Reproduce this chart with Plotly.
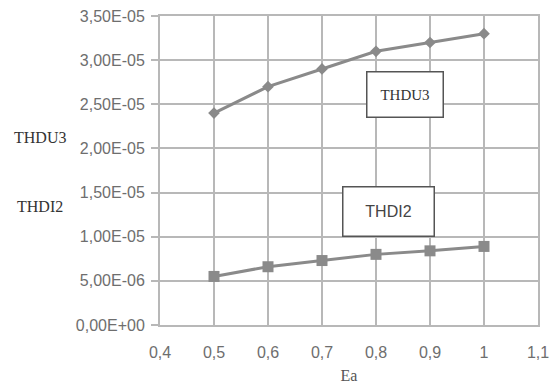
import plotly.graph_objects as go

ea = [0.5, 0.6, 0.7, 0.8, 0.9, 1.0]
thdu3 = [2.40e-5, 2.70e-5, 2.90e-5, 3.10e-5, 3.20e-5, 3.30e-5]
thdi2 = [5.5e-6, 6.6e-6, 7.3e-6, 8.0e-6, 8.4e-6, 8.9e-6]

y_ticks = [0, 5e-6, 1e-5, 1.5e-5, 2e-5, 2.5e-5, 3e-5, 3.5e-5]
y_tick_text = ["0,00E+00", "5,00E-06", "1,00E-05", "1,50E-05",
               "2,00E-05", "2,50E-05", "3,00E-05", "3,50E-05"]
x_ticks = [0.4, 0.5, 0.6, 0.7, 0.8, 0.9, 1.0, 1.1]
x_tick_text = ["0,4", "0,5", "0,6", "0,7", "0,8", "0,9", "1", "1,1"]

line_col = "#8a8a8a"
grid_col = "#b8b8b8"
tick_font = dict(family="Liberation Sans", size=16, color="#6e6e6e")
serif = "Liberation Serif"

fig = go.Figure()
fig.add_trace(go.Scatter(x=ea, y=thdu3, mode="lines+markers", name="THDU3",
                         line=dict(color=line_col, width=3),
                         marker=dict(symbol="diamond", size=9, color=line_col)))
fig.add_trace(go.Scatter(x=ea, y=thdi2, mode="lines+markers", name="THDI2",
                         line=dict(color=line_col, width=3),
                         marker=dict(symbol="square", size=11, color=line_col)))

fig.update_layout(
    width=551, height=387,
    margin=dict(l=160, r=13, t=16, b=62),
    paper_bgcolor="white", plot_bgcolor="white",
    showlegend=False,
    xaxis=dict(range=[0.4, 1.1], tickvals=x_ticks, ticktext=x_tick_text,
               automargin=False,
               showgrid=True, gridcolor=grid_col, gridwidth=2,
               showline=True, linecolor=grid_col, linewidth=2, mirror=True,
               zeroline=False, ticks="", tickfont=tick_font,
               ticklabelstandoff=12,
               title=dict(text="Ea", font=dict(family=serif, size=16, color="#555"),
                          standoff=10)),
    yaxis=dict(range=[0, 3.5e-5], tickvals=y_ticks, ticktext=y_tick_text,
               automargin=False,
               showgrid=True, gridcolor=grid_col, gridwidth=2,
               showline=True, linecolor=grid_col, linewidth=2, mirror=True,
               zeroline=False, ticks="outside", ticklen=7, tickcolor=grid_col,
               tickwidth=2, tickfont=tick_font, ticklabelstandoff=3),
)

fig.add_annotation(xref="paper", yref="paper", x=(12 - 160) / 378, y=(325 - 137) / 309,
                   text="THDU3", showarrow=False, xanchor="left",
                   font=dict(family=serif, size=16, color="#333"))
fig.add_annotation(xref="paper", yref="paper", x=(15 - 160) / 378, y=(325 - 206) / 309,
                   text="THDI2", showarrow=False, xanchor="left",
                   font=dict(family=serif, size=16, color="#333"))
fig.add_annotation(x=0.854, y=2.61e-5, text="THDU3", showarrow=False,
                   bordercolor="#555", borderwidth=1.5, borderpad=0,
                   width=75, height=44, bgcolor="white",
                   font=dict(family=serif, size=15, color="#333"))
fig.add_annotation(x=0.824, y=1.284e-5, text="THDI2", showarrow=False,
                   bordercolor="#555", borderwidth=1.5, borderpad=0,
                   width=90, height=48, bgcolor="white",
                   font=dict(family="Liberation Sans", size=16, color="#444"))

fig.write_html("out.html")
